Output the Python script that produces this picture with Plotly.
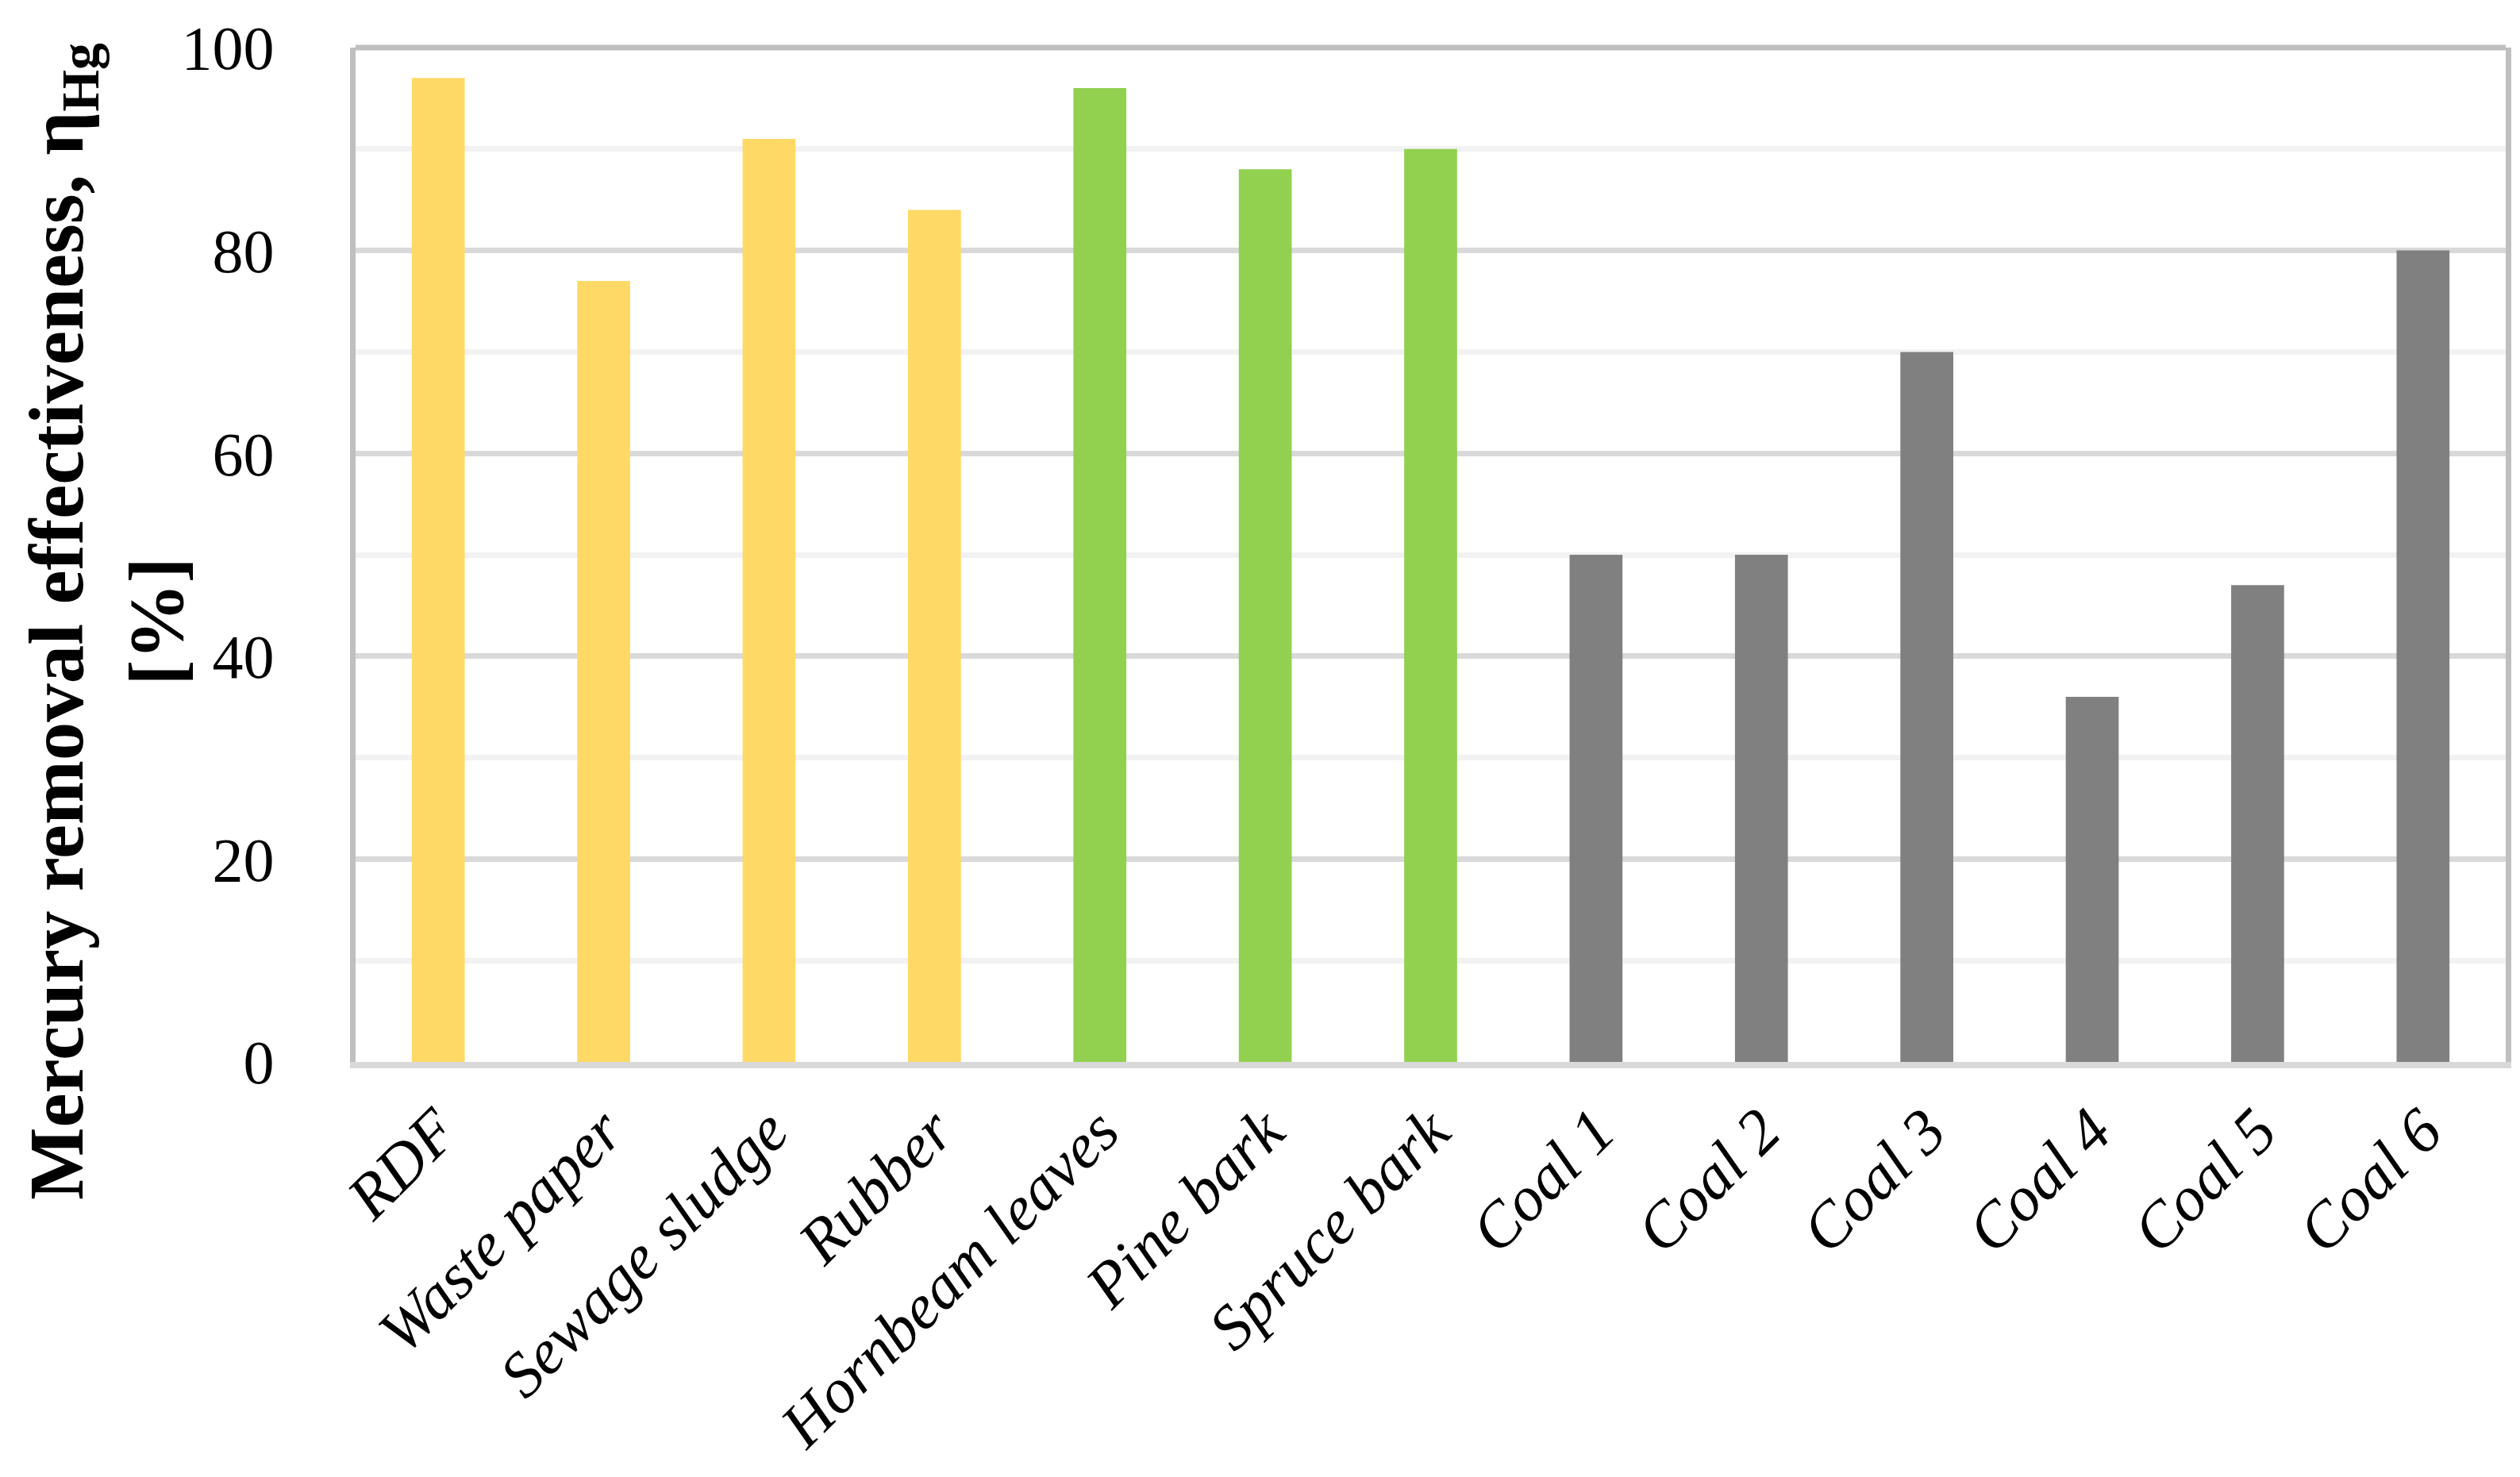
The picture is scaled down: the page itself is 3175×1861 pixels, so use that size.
import plotly.graph_objects as go

categories = ["RDF", "Waste paper", "Sewage sludge", "Rubber", "Hornbeam leaves",
              "Pine bark", "Spruce bark", "Coal 1", "Coal 2", "Coal 3", "Coal 4",
              "Coal 5", "Coal 6"]
values = [97, 77, 91, 84, 96, 88, 90, 50, 50, 70, 36, 47, 80]
groups = ["waste", "waste", "waste", "waste", "biomass", "biomass", "biomass",
          "coal", "coal", "coal", "coal", "coal", "coal"]
y_ticks = [0, 20, 40, 60, 80, 100]

group_colors = {"waste": "#FFD966", "biomass": "#92D050", "coal": "#808080"}

W, H = 3175, 1861
ML, MR, MT, MB = 440, 26, 52, 531
FONT = "Liberation Serif"

fig = go.Figure()
fig.add_trace(go.Bar(
    x=categories, y=values,
    marker=dict(color=[group_colors[g] for g in groups], line=dict(width=0)),
    showlegend=False,
))

fig.update_layout(
    width=W, height=H,
    margin=dict(l=ML, r=MR, t=MT, b=MB, autoexpand=False),
    paper_bgcolor="white", plot_bgcolor="white",
    bargap=0.68,
    font=dict(family=FONT, color="black"),
)

fig.update_xaxes(
    type="category",
    tickangle=-45,
    tickfont=dict(family=FONT, size=80, style="italic", color="black"),
    showline=True, linecolor="#D9D9D9", linewidth=8, mirror=False,
    showgrid=False, ticks="", ticklabelstandoff=0,
)
fig.update_yaxes(
    range=[0, 100], tickvals=y_ticks,
    tickfont=dict(family=FONT, size=78, color="black"),
    showline=True, linecolor="#BFBFBF", linewidth=7, mirror=True,
    showgrid=True, gridcolor="#D9D9D9", gridwidth=7,
    minor=dict(dtick=10, showgrid=True, gridcolor="#F2F2F2", gridwidth=7),
    zeroline=False, ticks="", ticklabelstandoff=80,
)

fig.add_shape(type="line", xref="paper", yref="paper", x0=0, x1=1, y0=1, y1=1,
              line=dict(color="#BFBFBF", width=7), layer="above")

plot_w = W - ML - MR
plot_h = H - MT - MB
fig.add_annotation(
    text="<b>Mercury removal effectiveness, η<sub>Hg</sub></b><br><b>[%]</b>",
    xref="paper", yref="paper",
    x=(126 - ML) / plot_w, y=(H - MB - 775) / plot_h,
    xanchor="center", yanchor="middle",
    textangle=-90, showarrow=False,
    font=dict(family=FONT, size=97, color="black"),
)

fig.write_html("out.html")
